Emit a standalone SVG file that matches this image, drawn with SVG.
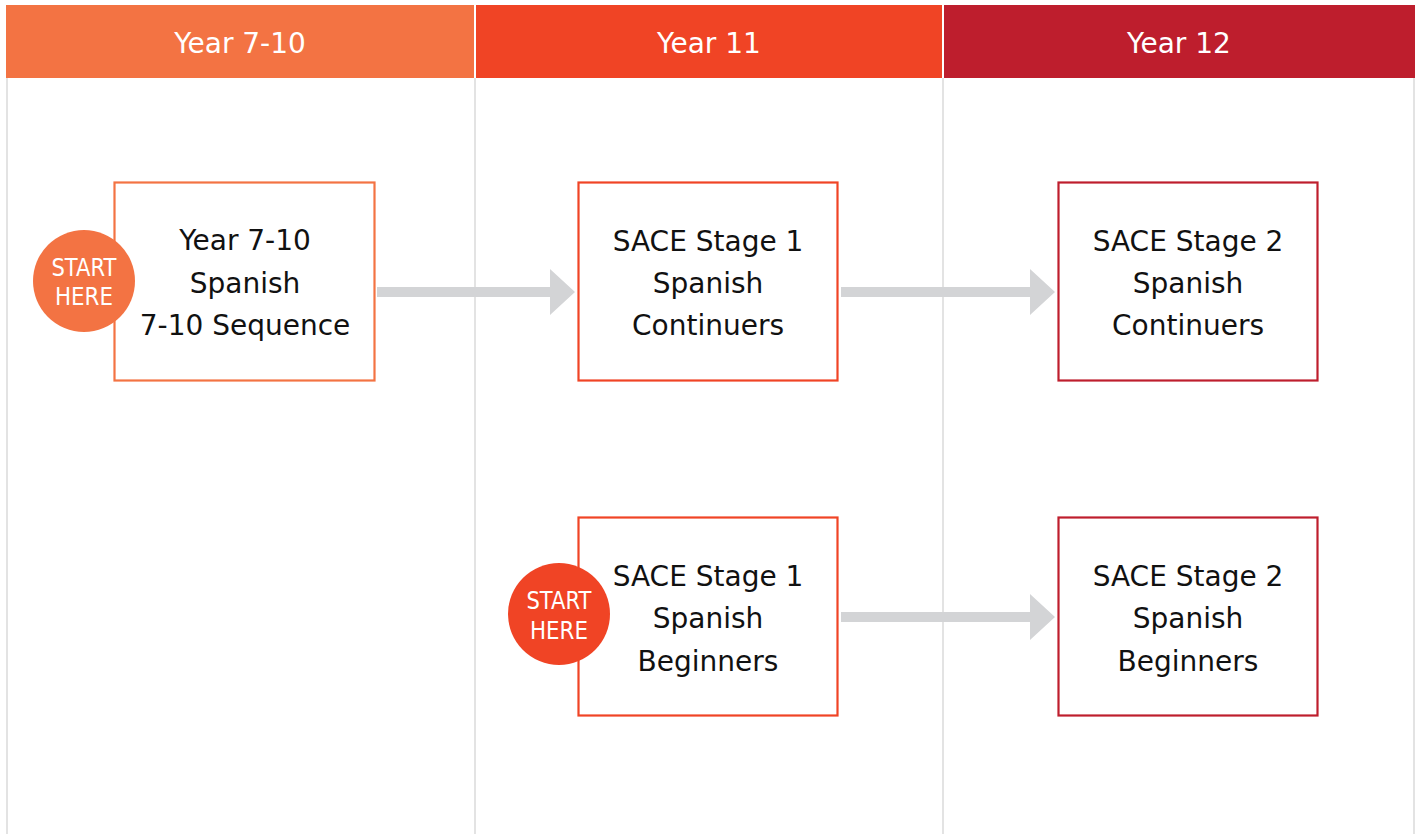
<svg xmlns="http://www.w3.org/2000/svg" width="1421" height="834" viewBox="0 0 1421 834">
<style>
.col{stroke:#E3E3E3;stroke-width:2;fill:none}
.hd{font-family:"DejaVu Sans","Liberation Sans",sans-serif;font-size:28px;fill:#FFFFFF;text-anchor:middle}
.bx{fill:#FFFFFF;stroke-width:2.2}
.t{font-family:"DejaVu Sans","Liberation Sans",sans-serif;font-size:28px;fill:#111111;text-anchor:middle}
.sh{font-family:"DejaVu Sans","Liberation Sans",sans-serif;font-size:24px;fill:#FFFFFF;text-anchor:middle}
.arr{fill:#D3D4D6}
</style>
<rect width="1421" height="834" fill="#FFFFFF"/>
<g id="columns">
<line class="col" x1="7" y1="78" x2="7" y2="834"/>
<line class="col" x1="475" y1="78" x2="475" y2="834"/>
<line class="col" x1="943" y1="78" x2="943" y2="834"/>
<line class="col" x1="1414" y1="78" x2="1414" y2="834"/>
</g>
<g id="header-y7-10">
<rect x="6" y="5" width="468" height="73" fill="#F37343"/>
<text class="hd" x="240" y="53">Year 7-10</text>
</g>
<g id="header-y11">
<rect x="476" y="5" width="466" height="73" fill="#F04425"/>
<text class="hd" x="709" y="53">Year 11</text>
</g>
<g id="header-y12">
<rect x="944" y="5" width="471" height="73" fill="#BE1E2D"/>
<text class="hd" x="1179" y="53">Year 12</text>
</g>
<g id="connectors">
<polygon class="arr" points="377,287 550,287 550,269 575,292 550,315 550,297 377,297"/>
<polygon class="arr" points="841,287 1030,287 1030,269 1055,292 1030,315 1030,297 841,297"/>
<polygon class="arr" points="841,612 1030,612 1030,594 1055,617 1030,640 1030,622 841,622"/>
</g>
<g id="node-y7-10">
<rect class="bx" x="114.5" y="182.5" width="260" height="198" stroke="#F37343"/>
<text class="t" x="245" y="250">Year 7-10</text>
<text class="t" x="245" y="293">Spanish</text>
<text class="t" x="245" y="335">7-10 Sequence</text>
</g>
<g id="start-1">
<circle cx="84" cy="281" r="51" fill="#F37343"/>
<text class="sh" x="84" y="276" textLength="65" lengthAdjust="spacingAndGlyphs">START</text>
<text class="sh" x="84" y="305" textLength="58" lengthAdjust="spacingAndGlyphs">HERE</text>
</g>
<g id="node-s1-cont">
<rect class="bx" x="578.5" y="182.5" width="259" height="198" stroke="#F04425"/>
<text class="t" x="708" y="251">SACE Stage 1</text>
<text class="t" x="708" y="293">Spanish</text>
<text class="t" x="708" y="335">Continuers</text>
</g>
<g id="node-s2-cont">
<rect class="bx" x="1058.5" y="182.5" width="259" height="198" stroke="#BE1E2D"/>
<text class="t" x="1188" y="251">SACE Stage 2</text>
<text class="t" x="1188" y="293">Spanish</text>
<text class="t" x="1188" y="335">Continuers</text>
</g>
<g id="node-s1-beg">
<rect class="bx" x="578.5" y="517.5" width="259" height="198" stroke="#F04425"/>
<text class="t" x="708" y="586">SACE Stage 1</text>
<text class="t" x="708" y="628">Spanish</text>
<text class="t" x="708" y="671">Beginners</text>
</g>
<g id="start-2">
<circle cx="559" cy="614" r="51" fill="#F04425"/>
<text class="sh" x="559" y="609" textLength="65" lengthAdjust="spacingAndGlyphs">START</text>
<text class="sh" x="559" y="639" textLength="58" lengthAdjust="spacingAndGlyphs">HERE</text>
</g>
<g id="node-s2-beg">
<rect class="bx" x="1058.5" y="517.5" width="259" height="198" stroke="#BE1E2D"/>
<text class="t" x="1188" y="586">SACE Stage 2</text>
<text class="t" x="1188" y="628">Spanish</text>
<text class="t" x="1188" y="671">Beginners</text>
</g>
</svg>
